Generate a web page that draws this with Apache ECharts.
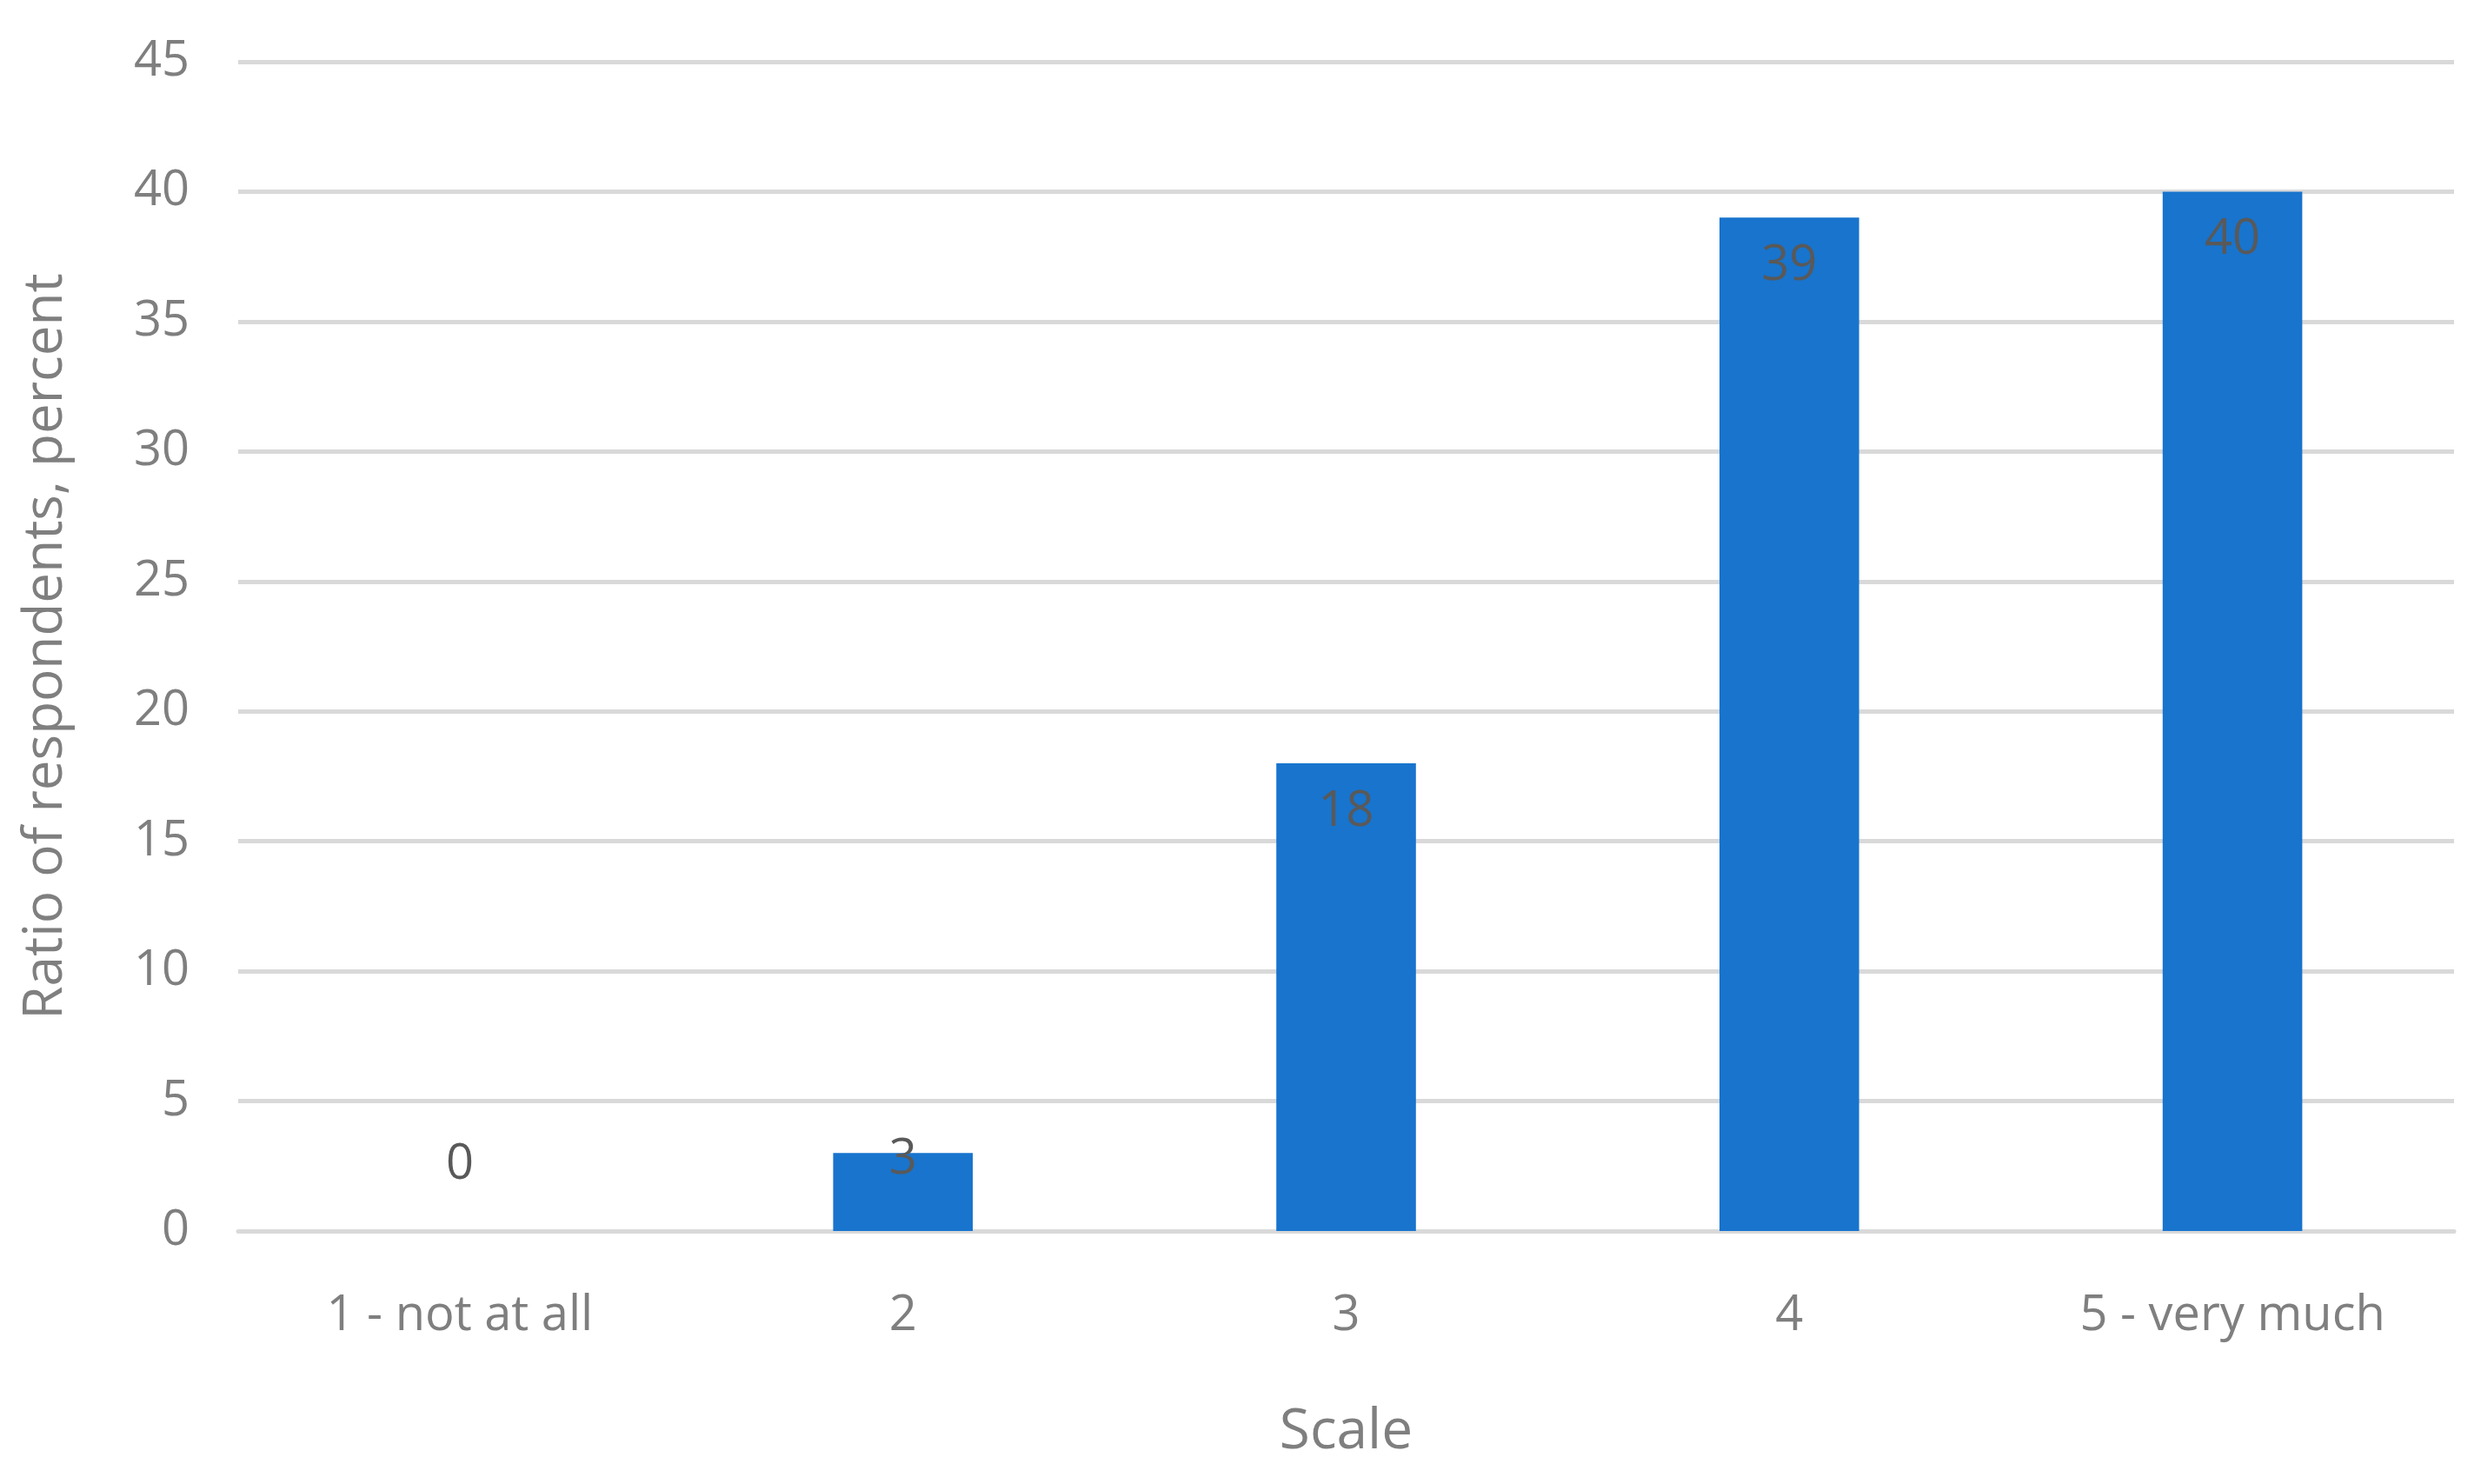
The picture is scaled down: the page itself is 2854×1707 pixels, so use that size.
<!DOCTYPE html>
<html>
<head>
<meta charset="utf-8">
<script src="https://cdn.jsdelivr.net/npm/echarts@6/dist/echarts.min.js"></script>
<style>html,body{margin:0;padding:0;background:#fff}#chartWrap{width:2854px;height:1707px}</style>
</head>
<body>
<div id="chartWrap"></div>
<script>
// data
var categories = ['1 - not at all', '2', '3', '4', '5 - very much'];
var values = [0, 3, 18, 39, 40];

var dom = document.getElementById('chartWrap');
var myChart = echarts.init(dom);
var textColor = '#7f7f7f';
var fontFam = 'Open Sans, Noto Sans, sans-serif';

var seriesData = [];
for (var i = 0; i < values.length; i++) {
	var item = { value: values[i] };
	if (values[i] < 5) {
		// small bars: label sits just above the bar top
		item.label = { position: 'top', distance: values[i] === 0 ? 48 : -36 };
	}
	seriesData.push(item);
}

var option = {
	backgroundColor: '#fff',
	grid: { left: 274, right: 31, top: 71, bottom: 291 },
	xAxis: {
		type: 'category',
		data: categories,
		name: 'Scale',
		nameLocation: 'middle',
		nameGap: 200,
		nameTextStyle: { color: textColor, fontSize: 64, fontFamily: fontFam },
		axisLine: { lineStyle: { color: '#d9d9d9', width: 5 } },
		axisTick: { show: false },
		axisLabel: { color: textColor, fontSize: 56, margin: 70, fontFamily: fontFam }
	},
	yAxis: {
		type: 'value',
		min: 0, max: 45, interval: 5,
		name: 'Ratio of respondents, percent',
		nameLocation: 'middle',
		nameGap: 190,
		nameTextStyle: { color: textColor, fontSize: 62, fontFamily: fontFam },
		axisLine: { show: false },
		axisTick: { show: false },
		axisLabel: { color: textColor, fontSize: 56, margin: 56, fontFamily: fontFam },
		splitLine: { lineStyle: { color: '#d9d9d9', width: 5 } }
	},
	series: [{
		type: 'bar',
		data: seriesData,
		barWidth: '31.5%',
		itemStyle: { color: '#1874cd' },
		label: {
			show: true,
			position: 'insideTop',
			distance: 28,
			color: '#595959',
			fontSize: 56,
			fontFamily: fontFam
		}
	}]
};
myChart.setOption(option, true);
</script>
</body>
</html>
